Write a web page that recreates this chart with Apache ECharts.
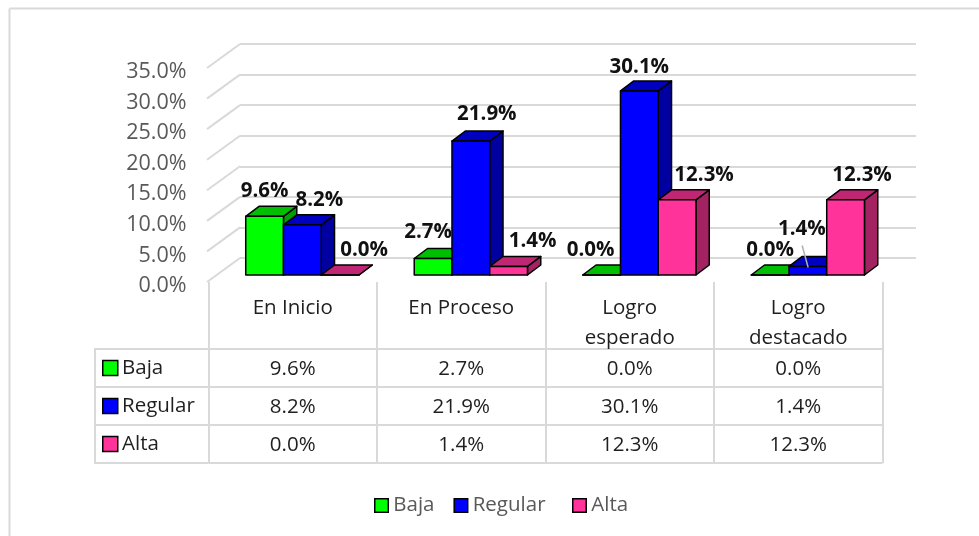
<!DOCTYPE html>
<html><head><meta charset="utf-8">
<style>html,body{margin:0;padding:0;background:#fff}#c{width:979px;height:536px}</style>
<script src="https://cdn.jsdelivr.net/npm/echarts@6/dist/echarts.min.js"></script>
</head><body><div id="c"></div>
<script>
const categories = ['En Inicio', 'En Proceso', 'Logro\nesperado', 'Logro\ndestacado'];
const seriesNames = ['Baja', 'Regular', 'Alta'];
const baja = [9.6, 2.7, 0.0, 0.0];
const regular = [8.2, 21.9, 30.1, 1.4];
const alta = [0.0, 1.4, 12.3, 12.3];
const yTicks = [0, 5, 10, 15, 20, 25, 30, 35];
const frontColors = ['#00FF00', '#0000FF', '#FF3399'];
const topColors = ['#00BF00', '#0000BF', '#BF2673'];
const sideColors = ['#00A000', '#0000A0', '#A32261'];
// label nudges relative to the top centre of each bar's front face [dx, dy]
const labelNudge = [
  [[0, -25], [17, -25], [24, -25]],
  [[-5, -26.5], [16, -27], [24, -25]],
  [[-11, -25], [0, -24], [27, -25]],
  [[0, -25], [-6, -37], [16.5, -25]]
];

const values = [baja, regular, alta];
const pct = v => v.toFixed(1) + '%';
const GREY = '#595959', LINE = '#D9D9D9', TXT = '#1F1F1F';
const FONT = '"Open Sans", sans-serif';
const FS = 20.5;
const wallDX = 33, wallDY = 24, planeDX = 9.6, planeDY = 7, sideDX = 13.3, sideDY = 10, barFrac = 0.224;

function barRender(si) {
  return function (params, api) {
    const cat = api.value(0), v = api.value(1);
    const top = api.coord([cat, v]), base = api.coord([cat, 0]);
    const w = api.size([1, 0])[0] * barFrac;
    const xl = top[0] + planeDX + (si - 1.5) * w, xr = xl + w;
    const yt = top[1] - planeDY, yb = base[1] - planeDY;
    const ln = { stroke: '#000', lineWidth: 1.5, lineJoin: 'round' };
    const poly = (pts, fill) => ({ type: 'polygon', shape: { points: pts }, style: Object.assign({ fill }, ln) });
    const kids = [
      poly([[xr, yb], [xr + sideDX, yb - sideDY], [xr + sideDX, yt - sideDY], [xr, yt]], sideColors[si]),
      poly([[xl, yt], [xl + sideDX, yt - sideDY], [xr + sideDX, yt - sideDY], [xr, yt]], topColors[si]),
      poly([[xl, yb], [xr, yb], [xr, yt], [xl, yt]], frontColors[si])
    ];
    const n = labelNudge[cat][si];
    const cx = (xl + xr) / 2;
    kids.push({ type: 'text', z2: 50, style: {
      text: pct(v), x: cx + n[0], y: yt + n[1], align: 'center', verticalAlign: 'middle',
      font: 'bold ' + FS + 'px ' + FONT, fill: '#111'
    } });
    if (si === 1 && cat === 3) {
      kids.push({ type: 'line', z2: 40, shape: { x1: cx - 5.7, y1: yt - 21, x2: cx + 0.3, y2: yt + 1 }, style: { stroke: '#B0B0B0', lineWidth: 1.5 } });
    }
    return { type: 'group', children: kids };
  };
}

const barSeries = seriesNames.map((name, si) => ({
  name, type: 'custom', xAxisIndex: 0, yAxisIndex: 0, z: 5 + si,
  renderItem: barRender(si), clip: false, silent: true,
  data: values[si].map((v, i) => [i, v]),
  encode: { x: 0, y: 1 },
  itemStyle: { color: frontColors[si], borderColor: '#000', borderWidth: 1.5 }
}));

const wallSeries = {
  type: 'custom', xAxisIndex: 1, yAxisIndex: 1, z: 1, silent: true, clip: false,
  data: yTicks.map(t => [0, t]),
  renderItem(params, api) {
    const p = api.coord([0, api.value(1)]);
    return { type: 'line', shape: { x1: p[0], y1: p[1], x2: p[0] - wallDX, y2: p[1] + wallDY }, style: { stroke: LINE, lineWidth: 2 } };
  }
};

const tableSeries = {
  type: 'custom', xAxisIndex: 2, yAxisIndex: 2, z: 3, silent: true,
  data: values.flatMap((row, r) => row.map((v, c) => [c, r, v])),
  renderItem(params, api) {
    const p = api.coord([api.value(0), api.value(1)]);
    return { type: 'text', style: { text: pct(api.value(2)), x: p[0], y: p[1] + 1, align: 'center', verticalAlign: 'middle', font: FS + 'px ' + FONT, fill: TXT } };
  }
};

const swatchRich = {};
seriesNames.forEach((n, i) => {
  swatchRich['s' + i] = { width: 13.5, height: 13.5, backgroundColor: frontColors[i], borderColor: '#000', borderWidth: 1.5 };
});
swatchRich.t = { fontSize: FS, fontFamily: FONT, color: TXT, padding: [0, 0, 0, 5] };

const legendItem = i => ({ name: seriesNames[i], icon: 'rect',
  itemStyle: { color: frontColors[i], borderColor: '#000', borderWidth: 1.5 } });
const legendBase = { top: 490, itemWidth: 13.5, itemHeight: 13.5, itemGap: 19,
  textStyle: { color: GREY, fontSize: FS, fontFamily: FONT } };

const chart = echarts.init(document.getElementById('c'), null, { renderer: 'canvas' });
chart.setOption({
  animation: false,
  backgroundColor: '#fff',
  textStyle: { fontFamily: FONT },
  grid: [
    { left: 208.5, width: 674, top: 68, height: 214 },
    { left: 240, width: 676, top: 44, height: 214 },
    { left: 208.5, width: 674, top: 349, height: 114 }
  ],
  xAxis: [
    { type: 'category', gridIndex: 0, data: categories, axisLine: { show: false },
      axisTick: { show: true, length: 67, interval: 0, lineStyle: { color: LINE, width: 2 } },
      axisLabel: { color: TXT, fontSize: FS, margin: 11, interval: 0, lineHeight: 30, fontFamily: FONT, verticalAlign: 'top' },
      splitLine: { show: false } },
    { type: 'value', gridIndex: 1, min: 0, max: 1, show: false, splitLine: { show: false } },
    { type: 'category', gridIndex: 2, data: categories, axisLine: { show: false }, axisTick: { show: false }, axisLabel: { show: false },
      splitLine: { show: true, interval: 0, lineStyle: { color: LINE, width: 2 } } }
  ],
  yAxis: [
    { type: 'value', gridIndex: 0, min: 0, max: 35, interval: 5, axisLine: { show: false }, axisTick: { show: false },
      splitLine: { show: false },
      axisLabel: { color: GREY, fontSize: 21.5, margin: 22, verticalAlign: 'top', lineHeight: 8, fontFamily: FONT, formatter: v => pct(v) } },
    { type: 'value', gridIndex: 1, min: 0, max: 35, interval: 5, axisLine: { show: false }, axisTick: { show: false },
      axisLabel: { show: false }, splitLine: { show: true, lineStyle: { color: LINE, width: 2 } } },
    { type: 'category', gridIndex: 2, inverse: true, data: seriesNames, axisLine: { show: false },
      axisTick: { show: true, length: 113, interval: 0, lineStyle: { color: LINE, width: 2 } },
      splitLine: { show: true, interval: 0, lineStyle: { color: LINE, width: 2 } },
      axisLabel: { margin: 105, align: 'left', interval: 0, rich: swatchRich,
        formatter: (v, i) => '{s' + i + '|}{t|' + v + '}' } }
  ],
  legend: [
    Object.assign({ left: 369, data: [legendItem(0), legendItem(1)] }, legendBase),
    Object.assign({ left: 567, data: [legendItem(2)] }, legendBase)
  ],
  graphic: [
    { type: 'line', silent: true, shape: { x1: 9.5, y1: 8.5, x2: 979, y2: 8.5 }, style: { stroke: LINE, lineWidth: 2 } },
    { type: 'line', silent: true, shape: { x1: 9.5, y1: 8.5, x2: 9.5, y2: 536 }, style: { stroke: LINE, lineWidth: 2 } },
    { type: 'line', silent: true, shape: { x1: 95, y1: 348, x2: 95, y2: 464 }, style: { stroke: LINE, lineWidth: 2 } }
  ],
  series: [wallSeries, tableSeries, ...barSeries]
});
</script></body></html>
